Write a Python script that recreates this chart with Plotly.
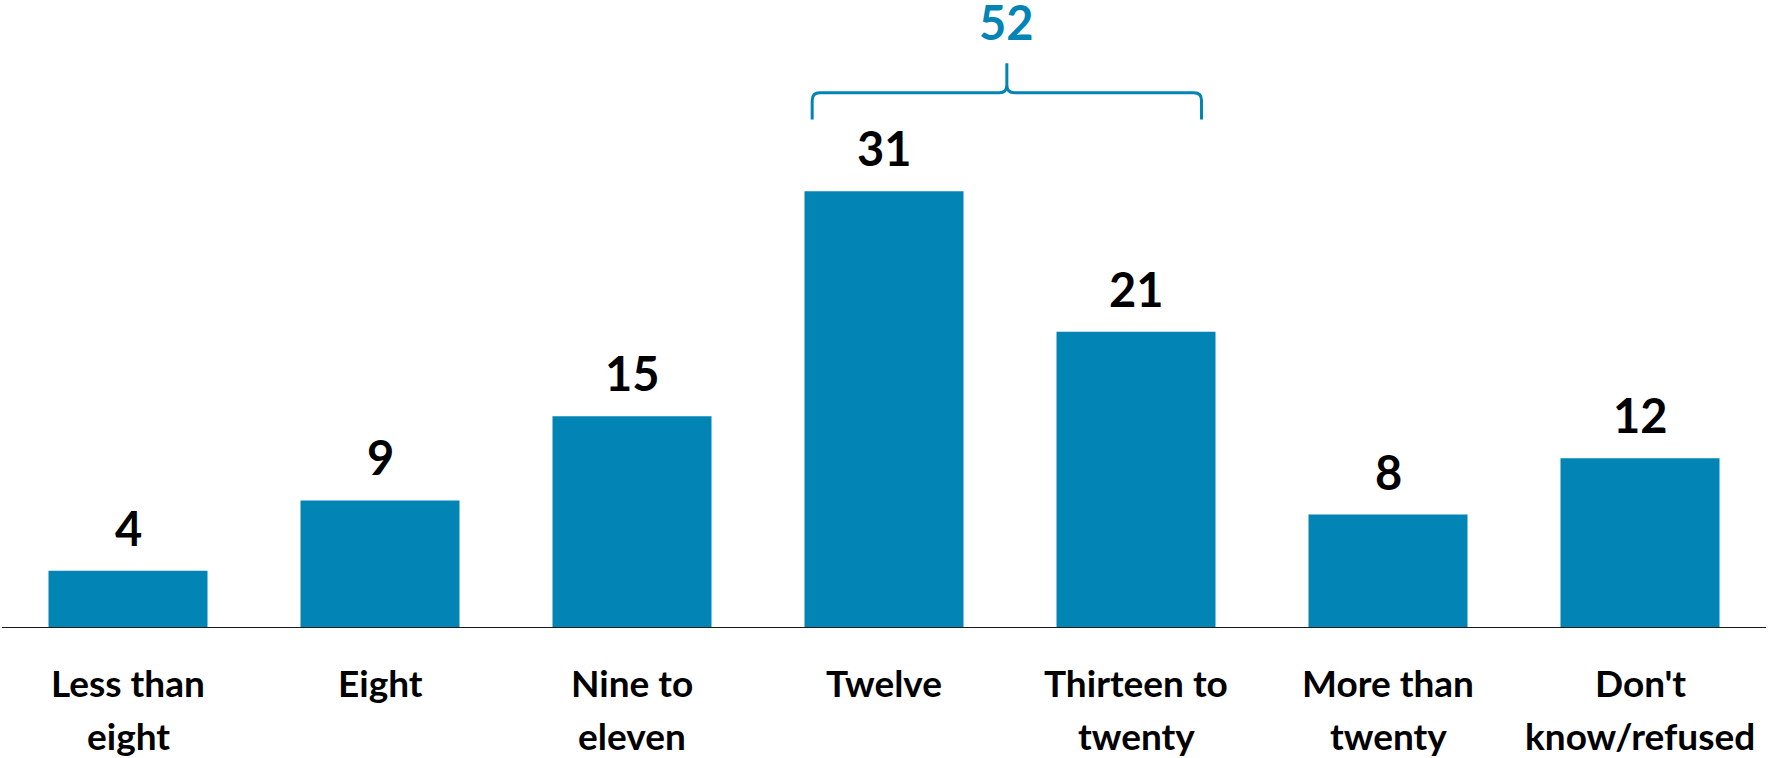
import plotly.graph_objects as go

categories = ["Less than eight", "Eight", "Nine to eleven", "Twelve",
              "Thirteen to twenty", "More than twenty", "Don't know/refused"]
label_line1 = ["Less than", "Eight", "Nine to", "Twelve", "Thirteen to", "More than", "Don't"]
label_line2 = ["eight", "", "eleven", "", "twenty", "twenty", "know/refused"]
values = [4, 9, 15, 31, 21, 8, 12]
bracket_total = 52
bracket_from, bracket_to = 3, 4

BLUE = "#0285B5"
FONT = "Lato"

fig = go.Figure()
fig.add_trace(go.Bar(
    x=list(range(len(categories))), y=values,
    marker=dict(color=BLUE, line=dict(width=0)),
    hoverinfo="skip", showlegend=False,
))

annotations = []
for i, v in enumerate(values):
    annotations.append(dict(
        x=i, y=v, xref="x", yref="y", text=str(v), showarrow=False,
        yanchor="bottom", yshift=13,
        font=dict(family=FONT, size=47, color="#000000", weight="bold"),
    ))
for i, (l1, l2) in enumerate(zip(label_line1, label_line2)):
    annotations.append(dict(
        x=i, y=0, xref="x", yref="y", text=l1, showarrow=False,
        yanchor="middle", yshift=-55,
        font=dict(family=FONT, size=37, color="#000000", weight="bold"),
    ))
    if l2:
        annotations.append(dict(
            x=i, y=0, xref="x", yref="y", text=l2, showarrow=False,
            yanchor="middle", yshift=-108,
            font=dict(family=FONT, size=37, color="#000000", weight="bold"),
        ))

# bracket over the grouped bars
xl = bracket_from - 0.285
xr = bracket_to + 0.26
xm = (xl + xr) / 2
yb, yh, yt = 36.1, 38.0, 40.1
rx, ry = 0.03, 0.55
path = (f"M {xl},{yb} L {xl},{yh - ry} Q {xl},{yh} {xl + rx},{yh} "
        f"L {xm - rx},{yh} Q {xm},{yh} {xm},{yh + ry} L {xm},{yt} "
        f"M {xm},{yh + ry} Q {xm},{yh} {xm + rx},{yh} "
        f"L {xr - rx},{yh} Q {xr},{yh} {xr},{yh - ry} L {xr},{yb}")
fig.add_shape(type="path", path=path, xref="x", yref="y",
              line=dict(color=BLUE, width=3))
annotations.append(dict(
    x=xm, y=43.0, xref="x", yref="y", text=str(bracket_total), showarrow=False,
    yanchor="middle",
    font=dict(family=FONT, size=47, color=BLUE, weight="bold"),
))

fig.update_layout(
    width=1769, height=758,
    margin=dict(l=2, r=3, t=0, b=131),
    paper_bgcolor="white", plot_bgcolor="white",
    bargap=0.369,
    annotations=annotations,
    xaxis=dict(range=[-0.5, len(categories) - 0.5], showticklabels=False,
               showgrid=False, zeroline=False, showline=True,
               linecolor="#1a1a1a", linewidth=1, ticks=""),
    yaxis=dict(range=[0, 44.6], visible=False, showgrid=False, zeroline=False),
)

fig.write_html(
    "out.html",
    config={"displayModeBar": False},
    post_script="document.body.style.margin='0';document.body.style.overflow='hidden';",
)
